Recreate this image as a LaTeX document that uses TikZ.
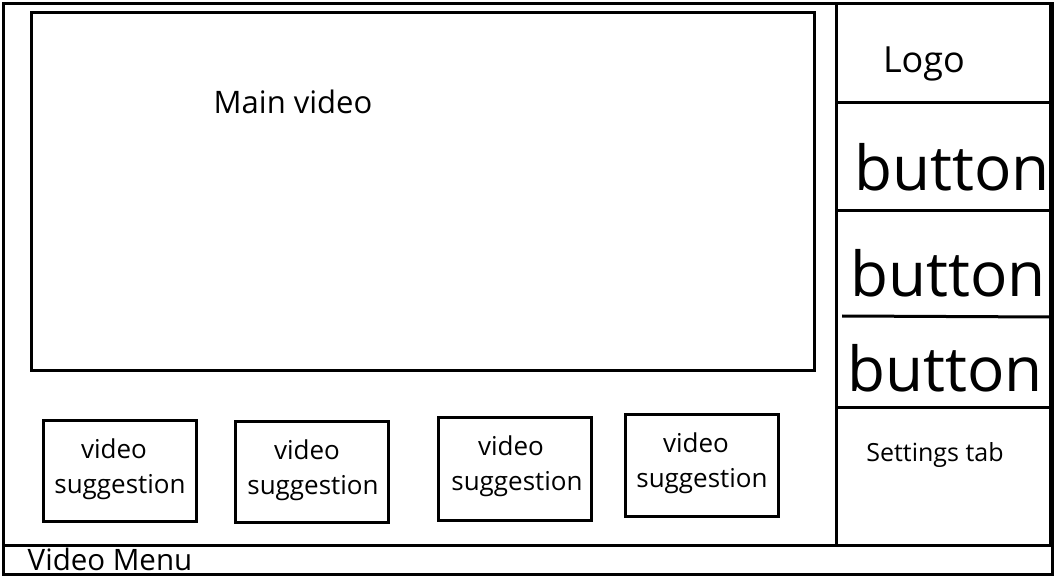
\documentclass[tikz,border=0pt]{standalone}
\usepackage{fontspec}
\setmainfont{Open Sans}
\begin{document}
\begin{tikzpicture}[x=1pt,y=-1pt,
  frame/.style={draw=black,line width=3pt},
  lbl/.style={inner sep=0pt,anchor=center,text=black},
  sug/.style={lbl,font=\fontsize{26}{30}\selectfont},
  big/.style={lbl,font=\fontsize{62}{70}\selectfont}]
\useasboundingbox[fill=white] (0,0) rectangle (1055,577);
% outer frame
\draw[frame] (3,4) rectangle (1052,574);
% menu bar line
\draw[frame] (3,545) -- (1052,545);
% right panel
\draw[frame] (836,5) -- (836,546);
\draw[frame] (1050,5) -- (1050,546);
\draw[frame] (836,103) -- (1050,103);
\draw[frame] (836,211) -- (1050,211);
\draw[frame] (842,316) -- (1050,317);
\draw[frame] (836,407) -- (1050,407);
% main video
\draw[frame] (31,13) rectangle (814,370);
\node[lbl,font=\fontsize{31}{34}\selectfont] (mv) at (293,102) {Main video};
% suggestions
\draw[frame] (43,420) rectangle (196,521);
\draw[frame] (235,421) rectangle (388,522);
\draw[frame] (438,417) rectangle (591,520);
\draw[frame] (625,414) rectangle (778,516);
\node[sug] (v1) at (114,449) {video};
\node[sug] (s1) at (120,487) {suggestion};
\node[sug] (v2) at (307,450) {video};
\node[sug] (s2) at (313,488) {suggestion};
\node[sug] (v3) at (511,446) {video};
\node[sug] (s3) at (517,484) {suggestion};
\node[sug] (v4) at (696,443) {video};
\node[sug] (s4) at (702,481) {suggestion};
% right panel labels
\node[lbl,font=\fontsize{36}{40}\selectfont] (logo) at (924,64) {Logo};
\node[big] (b1) at (952,167) {button};
\node[big] (b2) at (948,273) {button};
\node[big] (b3) at (945,368) {button};
\node[lbl,font=\fontsize{25}{28}\selectfont] (set) at (935,455) {Settings tab};
\node[lbl,font=\fontsize{29.5}{32}\selectfont] (menu) at (110,559) {Video Menu};
\end{tikzpicture}
\end{document}
